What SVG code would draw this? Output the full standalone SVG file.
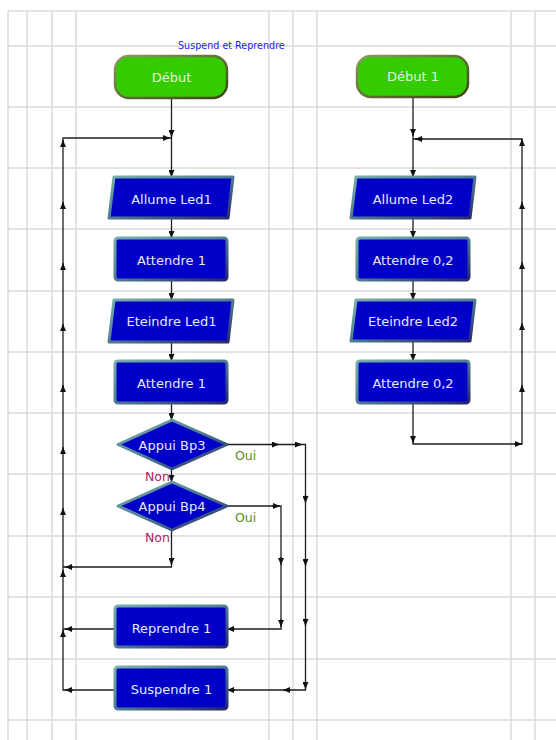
<svg xmlns="http://www.w3.org/2000/svg" width="556" height="740" viewBox="0 0 556 740">
<defs>
<style>
.grid line{stroke:#dadada;stroke-width:1.5}
.ln{fill:none;stroke:#1e1e1e;stroke-width:1.3}
.ah{fill:none;stroke:#1e1e1e;stroke-width:1.3;marker-end:url(#arr)}
.blk{fill:#0000c8;stroke:url(#bd);stroke-width:3;stroke-linejoin:round}
.grn{fill:#33cc00;stroke:url(#gd);stroke-width:2.5}
.t{font-family:"DejaVu Sans",Verdana,sans-serif;font-size:13px;text-anchor:middle;fill:#e6e8ff}
.tg{font-family:"DejaVu Sans",Verdana,sans-serif;font-size:13px;text-anchor:middle;fill:#e4f2d8}
.oui{font-family:"DejaVu Sans",Verdana,sans-serif;font-size:12.5px;fill:#5f8a1e}
.non{font-family:"DejaVu Sans",Verdana,sans-serif;font-size:12.5px;fill:#a8285a}
.ttl{font-family:"DejaVu Sans",Verdana,sans-serif;font-size:9.6px;fill:#1a1aff}
</style>
<linearGradient id="bd" x1="0" y1="0" x2="1" y2="1">
<stop offset="0" stop-color="#78aeae"/>
<stop offset="0.5" stop-color="#4f7e92"/>
<stop offset="1" stop-color="#262868"/>
</linearGradient>
<linearGradient id="gd" x1="0" y1="0" x2="1" y2="1">
<stop offset="0" stop-color="#8e9a60"/>
<stop offset="1" stop-color="#3a4510"/>
</linearGradient>
<marker id="arr" markerUnits="userSpaceOnUse" markerWidth="7" markerHeight="6" refX="7" refY="3" orient="auto" viewBox="0 0 7 6">
<path d="M0,0 L7,3 L0,6 z" fill="#111"/>
</marker>
</defs>
<rect x="0" y="0" width="556" height="740" fill="#ffffff"/>
<g class="grid">
<line x1="8" y1="11" x2="8" y2="740"/>
<line x1="27" y1="11" x2="27" y2="740"/>
<line x1="52" y1="11" x2="52" y2="740"/>
<line x1="76" y1="11" x2="76" y2="740"/>
<line x1="269" y1="11" x2="269" y2="740"/>
<line x1="293" y1="11" x2="293" y2="740"/>
<line x1="317" y1="11" x2="317" y2="740"/>
<line x1="511" y1="11" x2="511" y2="740"/>
<line x1="535" y1="11" x2="535" y2="740"/>
<line x1="8" y1="11" x2="556" y2="11"/>
<line x1="8" y1="46" x2="556" y2="46"/>
<line x1="8" y1="107" x2="556" y2="107"/>
<line x1="8" y1="168" x2="556" y2="168"/>
<line x1="8" y1="229" x2="556" y2="229"/>
<line x1="8" y1="291" x2="556" y2="291"/>
<line x1="8" y1="352" x2="556" y2="352"/>
<line x1="8" y1="413" x2="556" y2="413"/>
<line x1="8" y1="474" x2="556" y2="474"/>
<line x1="8" y1="536" x2="556" y2="536"/>
<line x1="8" y1="597" x2="556" y2="597"/>
<line x1="8" y1="659" x2="556" y2="659"/>
<line x1="8" y1="720" x2="556" y2="720"/>
</g>
<text class="ttl" x="178" y="49">Suspend et Reprendre</text>
<g id="connectors">
<path class="ln" d="M171.5,98 V177 M171.5,218 V238 M171.5,280 V300 M171.5,342 V361 M171.5,403 V420 M171.5,469 V482 M171.5,530 V567 H63"/>
<path class="ln" d="M115,690 H63 V138 H171.5"/>
<path class="ln" d="M115,629 H63"/>
<path class="ln" d="M227,444.5 H305.5 V690 H228"/>
<path class="ln" d="M227,506 H281 V629 H228"/>
<path class="ln" d="M413,97 V177 M413,218 V238 M413,280 V300 M413,341 V361 M413,403 V444 H522 V139 H413"/>
<path class="ah" d="M171.5,130 V137"/>
<path class="ah" d="M171.5,170 V177"/>
<path class="ah" d="M171.5,231 V238"/>
<path class="ah" d="M171.5,293 V300"/>
<path class="ah" d="M171.5,354 V361"/>
<path class="ah" d="M171.5,413 V420"/>
<path class="ah" d="M171.5,475 V482"/>
<path class="ah" d="M171.5,558 V565"/>
<path class="ah" d="M162,138 H170"/>
<path class="ah" d="M73,567 H65"/>
<path class="ah" d="M73,629 H65"/>
<path class="ah" d="M73,690 H65"/>
<path class="ah" d="M63,147 V140"/>
<path class="ah" d="M63,209 V202"/>
<path class="ah" d="M63,270 V263"/>
<path class="ah" d="M63,331 V324"/>
<path class="ah" d="M63,392 V385"/>
<path class="ah" d="M63,454 V447"/>
<path class="ah" d="M63,515 V508"/>
<path class="ah" d="M63,577 V570"/>
<path class="ah" d="M63,637 V630"/>
<path class="ah" d="M271,444.5 H279"/>
<path class="ah" d="M294,444.5 H302"/>
<path class="ah" d="M305.5,495 V503"/>
<path class="ah" d="M305.5,558 V566"/>
<path class="ah" d="M305.5,618 V626"/>
<path class="ah" d="M305.5,681 V689"/>
<path class="ah" d="M291,690 H283"/>
<path class="ah" d="M235,690 H227"/>
<path class="ah" d="M272,506 H280"/>
<path class="ah" d="M281,557 V565"/>
<path class="ah" d="M281,619 V627"/>
<path class="ah" d="M235,629 H227"/>
<path class="ah" d="M413,129 V136"/>
<path class="ah" d="M423,139 H415"/>
<path class="ah" d="M413,170 V177"/>
<path class="ah" d="M413,231 V238"/>
<path class="ah" d="M413,293 V300"/>
<path class="ah" d="M413,354 V361"/>
<path class="ah" d="M413,436 V443"/>
<path class="ah" d="M514,444 H522"/>
<path class="ah" d="M522,146 V139"/>
<path class="ah" d="M522,209 V202"/>
<path class="ah" d="M522,269 V262"/>
<path class="ah" d="M522,330 V323"/>
<path class="ah" d="M522,392 V385"/>
</g>
<g id="debut">
<rect class="grn" x="115" y="56" width="112" height="42" rx="14"/>
<text class="tg" x="171.5" y="81.5">Début</text>
</g>
<g id="allume-led1">
<polygon class="blk" points="114,177 233,177 228,218 109,218"/>
<text class="t" x="171.5" y="203.5">Allume Led1</text>
</g>
<g id="attendre-1a">
<rect class="blk" x="115" y="238" width="112" height="42" rx="3"/>
<text class="t" x="171.5" y="264.5">Attendre 1</text>
</g>
<g id="eteindre-led1">
<polygon class="blk" points="114,300 233,300 228,342 109,342"/>
<text class="t" x="171.5" y="326">Eteindre Led1</text>
</g>
<g id="attendre-1b">
<rect class="blk" x="115" y="361" width="112" height="42" rx="3"/>
<text class="t" x="171.5" y="387.5">Attendre 1</text>
</g>
<g id="appui-bp3">
<polygon class="blk" points="118,444.5 172,420 227,444.5 172,469"/>
<text class="t" x="172" y="449.5">Appui Bp3</text>
<text class="oui" x="235" y="460">Oui</text>
<text class="non" x="145" y="481">Non</text>
</g>
<g id="appui-bp4">
<polygon class="blk" points="118,506 172,482 227,506 172,530"/>
<text class="t" x="172" y="510.5">Appui Bp4</text>
<text class="oui" x="235" y="522">Oui</text>
<text class="non" x="145" y="542">Non</text>
</g>
<g id="reprendre-1">
<rect class="blk" x="115" y="606" width="112" height="41" rx="3"/>
<text class="t" x="171.5" y="632.5">Reprendre 1</text>
</g>
<g id="suspendre-1">
<rect class="blk" x="115" y="667" width="112" height="42" rx="3"/>
<text class="t" x="171.5" y="694">Suspendre 1</text>
</g>
<g id="debut-1">
<rect class="grn" x="357" y="56" width="111" height="41" rx="14"/>
<text class="tg" x="413" y="81">Début 1</text>
</g>
<g id="allume-led2">
<polygon class="blk" points="356,177 475,177 470,218 351,218"/>
<text class="t" x="413" y="203.5">Allume Led2</text>
</g>
<g id="attendre-02a">
<rect class="blk" x="357" y="238" width="112" height="42" rx="3"/>
<text class="t" x="413" y="264.5">Attendre 0,2</text>
</g>
<g id="eteindre-led2">
<polygon class="blk" points="356,300 475,300 470,341 351,341"/>
<text class="t" x="413" y="326">Eteindre Led2</text>
</g>
<g id="attendre-02b">
<rect class="blk" x="357" y="361" width="112" height="42" rx="3"/>
<text class="t" x="413" y="387.5">Attendre 0,2</text>
</g>
</svg>
